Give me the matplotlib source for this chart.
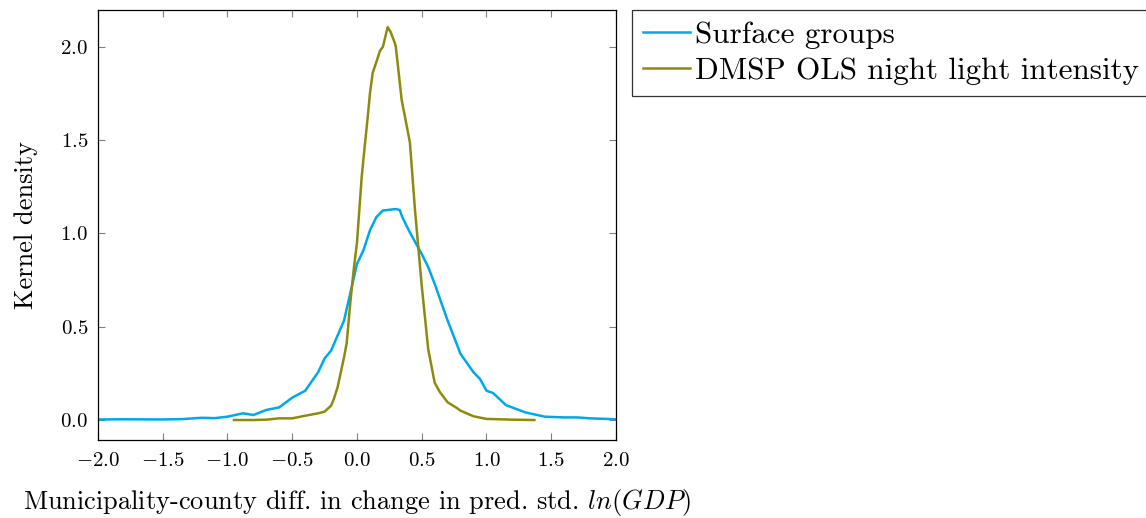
import numpy as np
import matplotlib
matplotlib.use("Agg")
from matplotlib import pyplot as plt

plt.rcParams['font.family'] = 'serif'
plt.rcParams['font.serif'] = ['cmr10']
plt.rcParams['mathtext.fontset'] = 'cm'
plt.rcParams['axes.formatter.use_mathtext'] = True

# surface groups kernel density
sg_x = [-2.0, -1.8, -1.5, -1.35, -1.2, -1.1, -1.0, -0.88, -0.8, -0.7, -0.6, -0.5,
        -0.4, -0.3, -0.25, -0.2, -0.1, 0.0, 0.05, 0.1, 0.15, 0.2, 0.25, 0.3, 0.33,
        0.35, 0.4, 0.45, 0.5, 0.55, 0.6, 0.7, 0.8, 0.9, 0.95, 1.0, 1.05, 1.1,
        1.15, 1.3, 1.45, 1.6, 1.7, 1.8, 2.0]
sg_y = [0.003, 0.004, 0.003, 0.005, 0.012, 0.01, 0.018, 0.036, 0.027, 0.054, 0.068, 0.12,
        0.157, 0.256, 0.33, 0.372, 0.533, 0.837, 0.91, 1.017, 1.088, 1.123, 1.127, 1.131, 1.126,
        1.088, 1.017, 0.953, 0.89, 0.82, 0.73, 0.533, 0.354, 0.256, 0.22, 0.157, 0.145, 0.113,
        0.08, 0.041, 0.018, 0.014, 0.014, 0.009, 0.004]

# DMSP OLS night light intensity kernel density
nl_x = [-0.95, -0.8, -0.7, -0.6, -0.5, -0.4, -0.3, -0.25, -0.2, -0.18, -0.15, -0.1,
        -0.08, -0.05, -0.023, 0.0, 0.036, 0.05, 0.088, 0.1, 0.121, 0.15, 0.178, 0.2,
        0.237, 0.26, 0.293, 0.3, 0.345, 0.4, 0.409, 0.448, 0.5, 0.55, 0.6, 0.64,
        0.7, 0.77, 0.8, 0.9, 1.0, 1.2, 1.37]
nl_y = [0.0, 0.0, 0.002, 0.009, 0.009, 0.023, 0.036, 0.045, 0.077, 0.11, 0.175, 0.336,
        0.41, 0.64, 0.82, 0.95, 1.30, 1.40, 1.66, 1.75, 1.86, 1.92, 1.98, 2.0,
        2.106, 2.08, 2.02, 2.0, 1.716, 1.52, 1.485, 1.126, 0.72, 0.38, 0.2, 0.15,
        0.095, 0.065, 0.05, 0.02, 0.006, 0.002, 0.0]

fig = plt.figure(figsize=(11.46, 5.18), dpi=100)
ax = fig.add_axes([0.0855, 0.1506, 0.452, 0.8301])

ax.plot(sg_x, sg_y, color='#00a8e8', lw=1.8, label='Surface groups')
ax.plot(nl_x, nl_y, color='#8e8a0e', lw=1.8, label='DMSP OLS night light intensity')

ax.set_xlim(-2, 2)
ax.set_ylim(-0.107, 2.198)
ax.set_xticks(np.arange(-2, 2.01, 0.5))
ax.set_yticks([0, 0.5, 1.0, 1.5, 2.0])
ax.xaxis.set_major_formatter(matplotlib.ticker.FuncFormatter(lambda v, p: '$%.1f$' % v))
ax.yaxis.set_major_formatter(matplotlib.ticker.FuncFormatter(lambda v, p: '$%.1f$' % v))
ax.tick_params(direction='in', top=True, right=True, length=5, color='#808080',
               labelsize=15)
ax.tick_params(axis='x', pad=9)
ax.tick_params(axis='y', pad=7)
for s in ax.spines.values():
    s.set_linewidth(0.9)

ax.set_ylabel('Kernel density', fontsize=19, labelpad=16)
ax.set_xlabel('Municipality-county diff. in change in pred. std. $ln(GDP)$', fontsize=19,
              labelpad=12)

leg = ax.legend(loc='upper left', bbox_to_anchor=(1.031, 1.0), fontsize=22.4,
                frameon=True, fancybox=False, edgecolor='black', handlelength=1.5,
                handletextpad=0.16, borderpad=0.35, labelspacing=0.28, borderaxespad=0)
leg.get_frame().set_linewidth(0.9)

fig.savefig('out.png', dpi=100)
